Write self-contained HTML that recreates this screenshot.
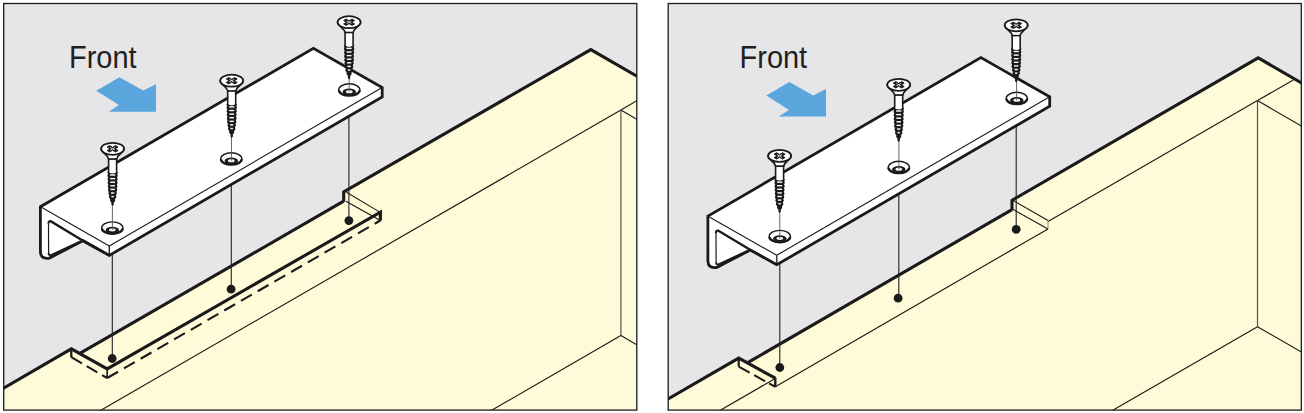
<!DOCTYPE html><html><head><meta charset="utf-8"><style>html,body{margin:0;padding:0;background:#fff;}svg{display:block;}</style></head><body><svg width="1304" height="413" viewBox="0 0 1304 413">
<rect width="1304" height="413" fill="#fff"/>
<clipPath id="c1"><rect x="3.7" y="3.5" width="633.1" height="406.6"/></clipPath><g clip-path="url(#c1)">
<rect x="3.7" y="3.5" width="633.1" height="406.6" fill="#e6e6e9"/>
<polygon points="-2,391.4 71.3,348.9 80.3,353.2 343.7,201.2 343.7,191.9 590.8,49.6 642,79.2 642,416 -2,416" fill="#fffad8" stroke="none" stroke-width="0" />
<line x1="90.9" y1="416" x2="620.9" y2="110" stroke="#1a1a1a" stroke-width="1.15" />
<line x1="620.9" y1="110" x2="642" y2="97.8" stroke="#1a1a1a" stroke-width="1.15" />
<line x1="620.9" y1="110" x2="642" y2="122.2" stroke="#1a1a1a" stroke-width="1.15" />
<line x1="620.9" y1="110" x2="620.9" y2="335.6" stroke="#55534a" stroke-width="1.2" />
<line x1="620.9" y1="335.6" x2="481.7" y2="416" stroke="#1a1a1a" stroke-width="1.15" />
<line x1="620.9" y1="335.6" x2="642" y2="347.8" stroke="#1a1a1a" stroke-width="1.15" />
<line x1="71.3" y1="348.9" x2="71.3" y2="357.2" stroke="#1a1a1a" stroke-width="2.2" />
<line x1="107.2" y1="368.9" x2="107.2" y2="378" stroke="#1a1a1a" stroke-width="1.6" />
<line x1="71.3" y1="357.2" x2="107.2" y2="378" stroke="#1a1a1a" stroke-width="2.1" stroke-dasharray="12.3 5.5"/>
<line x1="107.2" y1="378" x2="380.4" y2="220.5" stroke="#1a1a1a" stroke-width="2.1" stroke-dasharray="12.5 6.8"/>
<line x1="346.5" y1="192.2" x2="379.8" y2="212.1" stroke="#1a1a1a" stroke-width="1.1" />
<line x1="345.9" y1="201.2" x2="380.4" y2="220.5" stroke="#1a1a1a" stroke-width="1.1" />
<polyline points="-2,391.4 71.3,348.9 107.2,368.9 380.4,212.1 380.4,220.5" fill="none" stroke="#1a1a1a" stroke-width="3.1" />
<line x1="80.3" y1="353.2" x2="343.7" y2="201.2" stroke="#1a1a1a" stroke-width="3.1" />
<polyline points="343.7,201.8 343.7,191.9 590.8,49.6 642,79.2" fill="none" stroke="#1a1a1a" stroke-width="3.1" />
<line x1="112.3" y1="254" x2="112.3" y2="358.5" stroke="#222" stroke-width="1.1" />
<line x1="231.3" y1="170" x2="231.3" y2="289.2" stroke="#222" stroke-width="1.1" />
<line x1="348.9" y1="96" x2="348.9" y2="220.6" stroke="#222" stroke-width="1.1" />
<circle cx="112.2" cy="358.5" r="4.4" fill="#1a1a1a"/>
<circle cx="231.1" cy="289.2" r="4.4" fill="#1a1a1a"/>
<circle cx="348.9" cy="220.6" r="4.4" fill="#1a1a1a"/>
<path d="M40.4,206.8 L313.4,48.3 L382.2,87.5 L382.2,96.9 L109.3,255.4 L82.8,240.7 L49.4,258.1 C42.4,259.1 40.4,256.1 40.4,251.1 Z" fill="#fff" stroke="#1a1a1a" stroke-width="2.8" stroke-linejoin="miter"/>
<line x1="41" y1="207.1" x2="109.3" y2="246" stroke="#1a1a1a" stroke-width="1.1" />
<line x1="109.3" y1="246" x2="382.2" y2="87.5" stroke="#1a1a1a" stroke-width="1.1" />
<line x1="109.3" y1="246" x2="109.3" y2="255.4" stroke="#1a1a1a" stroke-width="1.3" />
<path d="M82.6,240.4 L51,221.4 Q48.5,220.6 48.5,223.6 L48.6,252.9 Q48.6,255.7 51.1,255.1 Z" fill="#fff" stroke="none"/>
<path d="M82.6,240.4 L51,221.4 Q48.5,220.6 48.5,223.6" fill="none" stroke="#1a1a1a" stroke-width="2.3"/>
<path d="M48.5,223.6 L48.6,252.9" fill="none" stroke="#1a1a1a" stroke-width="1.2"/>
<path d="M48.6,252.9 Q48.6,255.7 51.1,255.1 L82.6,240.4" fill="none" stroke="#1a1a1a" stroke-width="2.0"/>
<line x1="82.6" y1="240.4" x2="109.3" y2="255.4" stroke="#1a1a1a" stroke-width="2.4" />
<ellipse cx="112.3" cy="227.8" rx="10.6" ry="5.9" fill="#fff" stroke="#1a1a1a" stroke-width="1.4"/>
<path d="M102,228.4 A10.2,5.300000000000001 0 0 0 122.6,228.4" fill="none" stroke="#1a1a1a" stroke-width="2.4"/>
<ellipse cx="112.3" cy="230" rx="6.7" ry="3.3" fill="#1a1a1a"/>
<ellipse cx="112.3" cy="229.8" rx="3.4" ry="1.6" fill="#f2f2f2"/>
<ellipse cx="231.3" cy="158.7" rx="10.6" ry="5.9" fill="#fff" stroke="#1a1a1a" stroke-width="1.4"/>
<path d="M221,159.3 A10.2,5.300000000000001 0 0 0 241.6,159.3" fill="none" stroke="#1a1a1a" stroke-width="2.4"/>
<ellipse cx="231.3" cy="160.9" rx="6.7" ry="3.3" fill="#1a1a1a"/>
<ellipse cx="231.3" cy="160.7" rx="3.4" ry="1.6" fill="#f2f2f2"/>
<ellipse cx="349.3" cy="89.7" rx="10.6" ry="5.9" fill="#fff" stroke="#1a1a1a" stroke-width="1.4"/>
<path d="M339,90.3 A10.2,5.300000000000001 0 0 0 359.6,90.3" fill="none" stroke="#1a1a1a" stroke-width="2.4"/>
<ellipse cx="349.3" cy="91.9" rx="6.7" ry="3.3" fill="#1a1a1a"/>
<ellipse cx="349.3" cy="91.7" rx="3.4" ry="1.6" fill="#f2f2f2"/>
<line x1="112.4" y1="203" x2="112.4" y2="229.8" stroke="#555" stroke-width="0.9" />
<line x1="231.5" y1="135" x2="231.5" y2="160.5" stroke="#555" stroke-width="0.9" />
<line x1="349.2" y1="76" x2="349.2" y2="91.5" stroke="#555" stroke-width="0.9" />
<path d="M101.1,148.8 C102.6,153.8 108.1,154.8 108.6,159.1 Q112.6,160.1 116.6,159.1 C117.1,154.8 122.6,153.8 124.1,148.8 Z" fill="#fff" stroke="#1a1a1a" stroke-width="1.7" stroke-linejoin="round"/>
<rect x="108.6" y="159.1" width="8" height="14" fill="#fff" stroke="#1a1a1a" stroke-width="1.6"/>
<polygon points="107.2,172.1 108.05,173.9 107.31,175.7 108.16,177.5 107.41,179.3 108.27,181.1 107.52,182.9 108.37,184.7 107.62,186.5 108.48,188.3 107.84,190.1 108.87,191.9 108.3,193.7 109.34,195.5 108.77,197.3 110.18,199.1 110.03,200.9 111.49,202.7 111.35,204.5 112.6,206 113.85,204.5 113.71,202.7 115.17,200.9 115.02,199.1 116.43,197.3 115.86,195.5 116.9,193.7 116.33,191.9 117.36,190.1 116.72,188.3 117.58,186.5 116.83,184.7 117.68,182.9 116.93,181.1 117.79,179.3 117.04,177.5 117.89,175.7 117.15,173.9 118,172.1" fill="#1a1a1a" stroke="none" stroke-width="0" />
<rect x="109.99" y="174.3" width="5.23" height="1.4" fill="#fff"/>
<rect x="110.09" y="177.9" width="5.02" height="1.4" fill="#fff"/>
<rect x="110.2" y="181.5" width="4.8" height="1.4" fill="#fff"/>
<rect x="110.3" y="185.1" width="4.59" height="1.4" fill="#fff"/>
<rect x="110.45" y="188.7" width="4.31" height="1.4" fill="#fff"/>
<rect x="110.91" y="192.3" width="3.37" height="1.4" fill="#fff"/>
<rect x="111.38" y="195.9" width="2.44" height="1.4" fill="#fff"/>
<path d="M109.4,171.6 L109.4,172.7 Q112.6,174.3 115.8,172.7 L115.8,171.6 Z" fill="#fff"/>
<ellipse cx="112.6" cy="148.8" rx="11.5" ry="6.0" fill="#fff" stroke="#1a1a1a" stroke-width="1.8"/>
<polygon points="112.6,150.27 115.57,151.99 118.12,150.52 115.15,148.8 118.12,147.09 115.57,145.62 112.6,147.33 109.63,145.62 107.08,147.09 110.05,148.8 107.08,150.52 109.63,151.99" fill="#1a1a1a" stroke="#1a1a1a" stroke-width="0.9" stroke-linejoin="round"/>
<polygon points="112.6,149.19 114.59,150.34 115.27,149.95 113.28,148.8 115.27,147.65 114.59,147.26 112.6,148.41 110.61,147.26 109.93,147.65 111.92,148.8 109.93,149.95 110.61,150.34" fill="#fff" stroke="none" stroke-width="0" />
<path d="M220.2,80.7 C221.7,85.7 227.2,86.7 227.7,91 Q231.7,92 235.7,91 C236.2,86.7 241.7,85.7 243.2,80.7 Z" fill="#fff" stroke="#1a1a1a" stroke-width="1.7" stroke-linejoin="round"/>
<rect x="227.7" y="91" width="8" height="14" fill="#fff" stroke="#1a1a1a" stroke-width="1.6"/>
<polygon points="226.3,104 227.15,105.8 226.41,107.6 227.26,109.4 226.51,111.2 227.37,113 226.62,114.8 227.47,116.6 226.72,118.4 227.58,120.2 226.94,122 227.97,123.8 227.4,125.6 228.44,127.4 227.87,129.2 229.28,131 229.13,132.8 230.59,134.6 230.45,136.4 231.7,137.9 232.95,136.4 232.81,134.6 234.27,132.8 234.12,131 235.53,129.2 234.96,127.4 236,125.6 235.43,123.8 236.46,122 235.82,120.2 236.68,118.4 235.93,116.6 236.78,114.8 236.03,113 236.89,111.2 236.14,109.4 236.99,107.6 236.25,105.8 237.1,104" fill="#1a1a1a" stroke="none" stroke-width="0" />
<rect x="229.09" y="106.2" width="5.23" height="1.4" fill="#fff"/>
<rect x="229.19" y="109.8" width="5.02" height="1.4" fill="#fff"/>
<rect x="229.3" y="113.4" width="4.8" height="1.4" fill="#fff"/>
<rect x="229.4" y="117" width="4.59" height="1.4" fill="#fff"/>
<rect x="229.55" y="120.6" width="4.31" height="1.4" fill="#fff"/>
<rect x="230.01" y="124.2" width="3.37" height="1.4" fill="#fff"/>
<rect x="230.48" y="127.8" width="2.44" height="1.4" fill="#fff"/>
<path d="M228.5,103.5 L228.5,104.6 Q231.7,106.2 234.9,104.6 L234.9,103.5 Z" fill="#fff"/>
<ellipse cx="231.7" cy="80.7" rx="11.5" ry="6.0" fill="#fff" stroke="#1a1a1a" stroke-width="1.8"/>
<polygon points="231.7,82.17 234.67,83.89 237.22,82.42 234.25,80.7 237.22,78.98 234.67,77.52 231.7,79.23 228.73,77.52 226.18,78.98 229.15,80.7 226.18,82.42 228.73,83.89" fill="#1a1a1a" stroke="#1a1a1a" stroke-width="0.9" stroke-linejoin="round"/>
<polygon points="231.7,81.09 233.69,82.24 234.37,81.85 232.38,80.7 234.37,79.55 233.69,79.16 231.7,80.31 229.71,79.16 229.03,79.55 231.02,80.7 229.03,81.85 229.71,82.24" fill="#fff" stroke="none" stroke-width="0" />
<path d="M337.6,22.2 C339.1,27.2 344.6,28.2 345.1,32.5 Q349.1,33.5 353.1,32.5 C353.6,28.2 359.1,27.2 360.6,22.2 Z" fill="#fff" stroke="#1a1a1a" stroke-width="1.7" stroke-linejoin="round"/>
<rect x="345.1" y="32.5" width="8" height="14" fill="#fff" stroke="#1a1a1a" stroke-width="1.6"/>
<polygon points="343.7,45.5 344.55,47.3 343.81,49.1 344.66,50.9 343.91,52.7 344.77,54.5 344.02,56.3 344.87,58.1 344.12,59.9 344.98,61.7 344.34,63.5 345.37,65.3 344.8,67.1 345.84,68.9 345.27,70.7 346.68,72.5 346.53,74.3 347.99,76.1 347.85,77.9 349.1,79.4 350.35,77.9 350.21,76.1 351.67,74.3 351.52,72.5 352.93,70.7 352.36,68.9 353.4,67.1 352.83,65.3 353.86,63.5 353.22,61.7 354.08,59.9 353.33,58.1 354.18,56.3 353.43,54.5 354.29,52.7 353.54,50.9 354.39,49.1 353.65,47.3 354.5,45.5" fill="#1a1a1a" stroke="none" stroke-width="0" />
<rect x="346.49" y="47.7" width="5.23" height="1.4" fill="#fff"/>
<rect x="346.59" y="51.3" width="5.02" height="1.4" fill="#fff"/>
<rect x="346.7" y="54.9" width="4.8" height="1.4" fill="#fff"/>
<rect x="346.8" y="58.5" width="4.59" height="1.4" fill="#fff"/>
<rect x="346.95" y="62.1" width="4.31" height="1.4" fill="#fff"/>
<rect x="347.41" y="65.7" width="3.37" height="1.4" fill="#fff"/>
<rect x="347.88" y="69.3" width="2.44" height="1.4" fill="#fff"/>
<path d="M345.9,45 L345.9,46.1 Q349.1,47.7 352.3,46.1 L352.3,45 Z" fill="#fff"/>
<ellipse cx="349.1" cy="22.2" rx="11.5" ry="6.0" fill="#fff" stroke="#1a1a1a" stroke-width="1.8"/>
<polygon points="349.1,23.67 352.07,25.38 354.62,23.91 351.65,22.2 354.62,20.48 352.07,19.02 349.1,20.73 346.13,19.02 343.58,20.48 346.55,22.2 343.58,23.91 346.13,25.38" fill="#1a1a1a" stroke="#1a1a1a" stroke-width="0.9" stroke-linejoin="round"/>
<polygon points="349.1,22.59 351.09,23.74 351.77,23.35 349.78,22.2 351.77,21.05 351.09,20.66 349.1,21.81 347.11,20.66 346.43,21.05 348.42,22.2 346.43,23.35 347.11,23.74" fill="#fff" stroke="none" stroke-width="0" />
<polygon points="119.4,77.3 143.3,90.6 156,84.3 156,111.8 108.8,111.8 119,105.1 96.3,90.8" fill="#5aa6dd" stroke="none" stroke-width="0" />
<text transform="translate(69.0,67.6) scale(0.928,1)" font-family="Liberation Sans, sans-serif" font-size="31.2" fill="#231f20">Front</text>
</g>
<rect x="3.7" y="3.5" width="633.1" height="406.6" fill="none" stroke="#1a1a1a" stroke-width="1.3"/>
<clipPath id="c2"><rect x="668.2" y="3.5" width="633.1" height="406.6"/></clipPath><g clip-path="url(#c2)">
<rect x="668.2" y="3.5" width="633.1" height="406.6" fill="#e6e6e9"/>
<polygon points="662,402.4 738.7,358.1 748.1,362.4 1012,209.6 1012,200.3 1258.2,57.9 1307,86.1 1307,416 662,416" fill="#fffad8" stroke="none" stroke-width="0" />
<line x1="710.4" y1="416" x2="775.3" y2="378.5" stroke="#1a1a1a" stroke-width="1.15" />
<line x1="775.3" y1="386.7" x2="1048" y2="228.9" stroke="#1a1a1a" stroke-width="1.15" />
<line x1="1048" y1="221.4" x2="1257.5" y2="100.6" stroke="#1a1a1a" stroke-width="1.15" />
<line x1="1257.5" y1="100.6" x2="1293.3" y2="80" stroke="#1a1a1a" stroke-width="1.15" />
<line x1="1257.5" y1="100.6" x2="1307" y2="129.2" stroke="#1a1a1a" stroke-width="1.15" />
<line x1="1257.5" y1="100.6" x2="1257.5" y2="326.7" stroke="#55534a" stroke-width="1.2" />
<line x1="1257.5" y1="326.7" x2="1102.8" y2="416" stroke="#1a1a1a" stroke-width="1.15" />
<line x1="1257.5" y1="326.7" x2="1307" y2="355.3" stroke="#1a1a1a" stroke-width="1.15" />
<line x1="1013.3" y1="200.5" x2="1048" y2="220.6" stroke="#1a1a1a" stroke-width="1.1" />
<line x1="1013.3" y1="209.6" x2="1048" y2="228.9" stroke="#1a1a1a" stroke-width="1.1" />
<line x1="1048" y1="220.6" x2="1048" y2="228.9" stroke="#8a8770" stroke-width="1.0" />
<line x1="738.7" y1="358.1" x2="738.7" y2="366.6" stroke="#1a1a1a" stroke-width="2.2" />
<line x1="738.7" y1="366.6" x2="775.3" y2="386.9" stroke="#1a1a1a" stroke-width="2.0" stroke-dasharray="12.5 5.2 12.5 4.6 9"/>
<line x1="775.3" y1="377.8" x2="775.3" y2="386.7" stroke="#1a1a1a" stroke-width="2.4" />
<polyline points="662,402.4 738.7,358.1 775.3,378.2" fill="none" stroke="#1a1a1a" stroke-width="3.1" />
<line x1="748.1" y1="362.4" x2="1012" y2="209.6" stroke="#1a1a1a" stroke-width="3.1" />
<polyline points="1012,210.2 1012,200.3 1258.2,57.9 1307,86.1" fill="none" stroke="#1a1a1a" stroke-width="3.1" />
<line x1="779.8" y1="263.3" x2="779.8" y2="367.5" stroke="#222" stroke-width="1.1" />
<line x1="898.8" y1="179.3" x2="898.8" y2="298.2" stroke="#222" stroke-width="1.1" />
<line x1="1016.2" y1="105.3" x2="1016.2" y2="229.3" stroke="#222" stroke-width="1.1" />
<circle cx="779.8" cy="367.5" r="4.4" fill="#1a1a1a"/>
<circle cx="898.1" cy="298.2" r="4.4" fill="#1a1a1a"/>
<circle cx="1016.2" cy="229.3" r="4.4" fill="#1a1a1a"/>
<path d="M707.9,216.1 L980.9,57.6 L1049.7,96.8 L1049.7,106.2 L776.8,264.7 L750.3,250 L716.9,267.4 C709.9,268.4 707.9,265.4 707.9,260.4 Z" fill="#fff" stroke="#1a1a1a" stroke-width="2.8" stroke-linejoin="miter"/>
<line x1="708.5" y1="216.4" x2="776.8" y2="255.3" stroke="#1a1a1a" stroke-width="1.1" />
<line x1="776.8" y1="255.3" x2="1049.7" y2="96.8" stroke="#1a1a1a" stroke-width="1.1" />
<line x1="776.8" y1="255.3" x2="776.8" y2="264.7" stroke="#1a1a1a" stroke-width="1.3" />
<path d="M750.1,249.7 L718.5,230.7 Q716,229.9 716,232.9 L716.1,262.2 Q716.1,265 718.6,264.4 Z" fill="#fff" stroke="none"/>
<path d="M750.1,249.7 L718.5,230.7 Q716,229.9 716,232.9" fill="none" stroke="#1a1a1a" stroke-width="2.3"/>
<path d="M716,232.9 L716.1,262.2" fill="none" stroke="#1a1a1a" stroke-width="1.2"/>
<path d="M716.1,262.2 Q716.1,265 718.6,264.4 L750.1,249.7" fill="none" stroke="#1a1a1a" stroke-width="2.0"/>
<line x1="750.1" y1="249.7" x2="776.8" y2="264.7" stroke="#1a1a1a" stroke-width="2.4" />
<ellipse cx="779.8" cy="236.3" rx="10.6" ry="5.9" fill="#fff" stroke="#1a1a1a" stroke-width="1.4"/>
<path d="M769.5,236.9 A10.2,5.300000000000001 0 0 0 790.1,236.9" fill="none" stroke="#1a1a1a" stroke-width="2.4"/>
<ellipse cx="779.8" cy="238.5" rx="6.7" ry="3.3" fill="#1a1a1a"/>
<ellipse cx="779.8" cy="238.3" rx="3.4" ry="1.6" fill="#f2f2f2"/>
<ellipse cx="898.8" cy="167.2" rx="10.6" ry="5.9" fill="#fff" stroke="#1a1a1a" stroke-width="1.4"/>
<path d="M888.5,167.8 A10.2,5.300000000000001 0 0 0 909.1,167.8" fill="none" stroke="#1a1a1a" stroke-width="2.4"/>
<ellipse cx="898.8" cy="169.4" rx="6.7" ry="3.3" fill="#1a1a1a"/>
<ellipse cx="898.8" cy="169.2" rx="3.4" ry="1.6" fill="#f2f2f2"/>
<ellipse cx="1016.8" cy="98.2" rx="10.6" ry="5.9" fill="#fff" stroke="#1a1a1a" stroke-width="1.4"/>
<path d="M1006.5,98.8 A10.2,5.300000000000001 0 0 0 1027.1,98.8" fill="none" stroke="#1a1a1a" stroke-width="2.4"/>
<ellipse cx="1016.8" cy="100.4" rx="6.7" ry="3.3" fill="#1a1a1a"/>
<ellipse cx="1016.8" cy="100.2" rx="3.4" ry="1.6" fill="#f2f2f2"/>
<line x1="779.8" y1="209" x2="779.8" y2="238.5" stroke="#555" stroke-width="0.9" />
<line x1="898.9" y1="139" x2="898.9" y2="169.2" stroke="#555" stroke-width="0.9" />
<line x1="1016.6" y1="79" x2="1016.6" y2="100.2" stroke="#555" stroke-width="0.9" />
<path d="M768.1,155.9 C769.6,160.9 775.1,161.9 775.6,166.2 Q779.6,167.2 783.6,166.2 C784.1,161.9 789.6,160.9 791.1,155.9 Z" fill="#fff" stroke="#1a1a1a" stroke-width="1.7" stroke-linejoin="round"/>
<rect x="775.6" y="166.2" width="8" height="14" fill="#fff" stroke="#1a1a1a" stroke-width="1.6"/>
<polygon points="774.2,179.2 775.05,181 774.31,182.8 775.16,184.6 774.41,186.4 775.27,188.2 774.52,190 775.37,191.8 774.62,193.6 775.48,195.4 774.84,197.2 775.87,199 775.3,200.8 776.34,202.6 775.77,204.4 777.18,206.2 777.03,208 778.49,209.8 778.35,211.6 779.6,213.1 780.85,211.6 780.71,209.8 782.17,208 782.02,206.2 783.43,204.4 782.86,202.6 783.9,200.8 783.33,199 784.36,197.2 783.72,195.4 784.58,193.6 783.83,191.8 784.68,190 783.93,188.2 784.79,186.4 784.04,184.6 784.89,182.8 784.15,181 785,179.2" fill="#1a1a1a" stroke="none" stroke-width="0" />
<rect x="776.99" y="181.4" width="5.23" height="1.4" fill="#fff"/>
<rect x="777.09" y="185" width="5.02" height="1.4" fill="#fff"/>
<rect x="777.2" y="188.6" width="4.8" height="1.4" fill="#fff"/>
<rect x="777.3" y="192.2" width="4.59" height="1.4" fill="#fff"/>
<rect x="777.45" y="195.8" width="4.31" height="1.4" fill="#fff"/>
<rect x="777.91" y="199.4" width="3.37" height="1.4" fill="#fff"/>
<rect x="778.38" y="203" width="2.44" height="1.4" fill="#fff"/>
<path d="M776.4,178.7 L776.4,179.8 Q779.6,181.4 782.8,179.8 L782.8,178.7 Z" fill="#fff"/>
<ellipse cx="779.6" cy="155.9" rx="11.5" ry="6.0" fill="#fff" stroke="#1a1a1a" stroke-width="1.8"/>
<polygon points="779.6,157.37 782.57,159.09 785.12,157.62 782.15,155.9 785.12,154.19 782.57,152.72 779.6,154.43 776.63,152.72 774.08,154.19 777.05,155.9 774.08,157.62 776.63,159.09" fill="#1a1a1a" stroke="#1a1a1a" stroke-width="0.9" stroke-linejoin="round"/>
<polygon points="779.6,156.29 781.59,157.44 782.27,157.05 780.28,155.9 782.27,154.75 781.59,154.36 779.6,155.51 777.61,154.36 776.93,154.75 778.92,155.9 776.93,157.05 777.61,157.44" fill="#fff" stroke="none" stroke-width="0" />
<path d="M887.2,84.8 C888.7,89.8 894.2,90.8 894.7,95.1 Q898.7,96.1 902.7,95.1 C903.2,90.8 908.7,89.8 910.2,84.8 Z" fill="#fff" stroke="#1a1a1a" stroke-width="1.7" stroke-linejoin="round"/>
<rect x="894.7" y="95.1" width="8" height="14" fill="#fff" stroke="#1a1a1a" stroke-width="1.6"/>
<polygon points="893.3,108.1 894.15,109.9 893.41,111.7 894.26,113.5 893.51,115.3 894.37,117.1 893.62,118.9 894.47,120.7 893.72,122.5 894.58,124.3 893.94,126.1 894.97,127.9 894.4,129.7 895.44,131.5 894.87,133.3 896.28,135.1 896.13,136.9 897.59,138.7 897.45,140.5 898.7,142 899.95,140.5 899.81,138.7 901.27,136.9 901.12,135.1 902.53,133.3 901.96,131.5 903,129.7 902.43,127.9 903.46,126.1 902.82,124.3 903.68,122.5 902.93,120.7 903.78,118.9 903.03,117.1 903.89,115.3 903.14,113.5 903.99,111.7 903.25,109.9 904.1,108.1" fill="#1a1a1a" stroke="none" stroke-width="0" />
<rect x="896.09" y="110.3" width="5.23" height="1.4" fill="#fff"/>
<rect x="896.19" y="113.9" width="5.02" height="1.4" fill="#fff"/>
<rect x="896.3" y="117.5" width="4.8" height="1.4" fill="#fff"/>
<rect x="896.4" y="121.1" width="4.59" height="1.4" fill="#fff"/>
<rect x="896.55" y="124.7" width="4.31" height="1.4" fill="#fff"/>
<rect x="897.01" y="128.3" width="3.37" height="1.4" fill="#fff"/>
<rect x="897.48" y="131.9" width="2.44" height="1.4" fill="#fff"/>
<path d="M895.5,107.6 L895.5,108.7 Q898.7,110.3 901.9,108.7 L901.9,107.6 Z" fill="#fff"/>
<ellipse cx="898.7" cy="84.8" rx="11.5" ry="6.0" fill="#fff" stroke="#1a1a1a" stroke-width="1.8"/>
<polygon points="898.7,86.27 901.67,87.98 904.22,86.52 901.25,84.8 904.22,83.08 901.67,81.61 898.7,83.33 895.73,81.61 893.18,83.08 896.15,84.8 893.18,86.52 895.73,87.98" fill="#1a1a1a" stroke="#1a1a1a" stroke-width="0.9" stroke-linejoin="round"/>
<polygon points="898.7,85.19 900.69,86.34 901.37,85.95 899.38,84.8 901.37,83.65 900.69,83.26 898.7,84.41 896.71,83.26 896.03,83.65 898.02,84.8 896.03,85.95 896.71,86.34" fill="#fff" stroke="none" stroke-width="0" />
<path d="M1004.7,25.3 C1006.2,30.3 1011.7,31.3 1012.2,35.6 Q1016.2,36.6 1020.2,35.6 C1020.7,31.3 1026.2,30.3 1027.7,25.3 Z" fill="#fff" stroke="#1a1a1a" stroke-width="1.7" stroke-linejoin="round"/>
<rect x="1012.2" y="35.6" width="8" height="14" fill="#fff" stroke="#1a1a1a" stroke-width="1.6"/>
<polygon points="1010.8,48.6 1011.65,50.4 1010.91,52.2 1011.76,54 1011.01,55.8 1011.87,57.6 1011.12,59.4 1011.97,61.2 1011.22,63 1012.08,64.8 1011.44,66.6 1012.47,68.4 1011.9,70.2 1012.94,72 1012.37,73.8 1013.78,75.6 1013.63,77.4 1015.09,79.2 1014.95,81 1016.2,82.5 1017.45,81 1017.31,79.2 1018.77,77.4 1018.62,75.6 1020.03,73.8 1019.46,72 1020.5,70.2 1019.93,68.4 1020.96,66.6 1020.32,64.8 1021.18,63 1020.43,61.2 1021.28,59.4 1020.53,57.6 1021.39,55.8 1020.64,54 1021.49,52.2 1020.75,50.4 1021.6,48.6" fill="#1a1a1a" stroke="none" stroke-width="0" />
<rect x="1013.59" y="50.8" width="5.23" height="1.4" fill="#fff"/>
<rect x="1013.69" y="54.4" width="5.02" height="1.4" fill="#fff"/>
<rect x="1013.8" y="58" width="4.8" height="1.4" fill="#fff"/>
<rect x="1013.9" y="61.6" width="4.59" height="1.4" fill="#fff"/>
<rect x="1014.05" y="65.2" width="4.31" height="1.4" fill="#fff"/>
<rect x="1014.51" y="68.8" width="3.37" height="1.4" fill="#fff"/>
<rect x="1014.98" y="72.4" width="2.44" height="1.4" fill="#fff"/>
<path d="M1013,48.1 L1013,49.2 Q1016.2,50.8 1019.4,49.2 L1019.4,48.1 Z" fill="#fff"/>
<ellipse cx="1016.2" cy="25.3" rx="11.5" ry="6.0" fill="#fff" stroke="#1a1a1a" stroke-width="1.8"/>
<polygon points="1016.2,26.77 1019.17,28.48 1021.72,27.02 1018.75,25.3 1021.72,23.59 1019.17,22.12 1016.2,23.83 1013.23,22.12 1010.68,23.59 1013.65,25.3 1010.68,27.02 1013.23,28.48" fill="#1a1a1a" stroke="#1a1a1a" stroke-width="0.9" stroke-linejoin="round"/>
<polygon points="1016.2,25.69 1018.19,26.84 1018.87,26.45 1016.88,25.3 1018.87,24.15 1018.19,23.76 1016.2,24.91 1014.21,23.76 1013.53,24.15 1015.52,25.3 1013.53,26.45 1014.21,26.84" fill="#fff" stroke="none" stroke-width="0" />
<polygon points="789.4,82.1 813.3,95.4 826,89.1 826,116.6 778.8,116.6 789,109.9 766.3,95.6" fill="#5aa6dd" stroke="none" stroke-width="0" />
<text transform="translate(739.6,67.6) scale(0.928,1)" font-family="Liberation Sans, sans-serif" font-size="31.2" fill="#231f20">Front</text>
</g>
<rect x="668.2" y="3.5" width="633.1" height="406.6" fill="none" stroke="#1a1a1a" stroke-width="1.3"/>
</svg></body></html>
